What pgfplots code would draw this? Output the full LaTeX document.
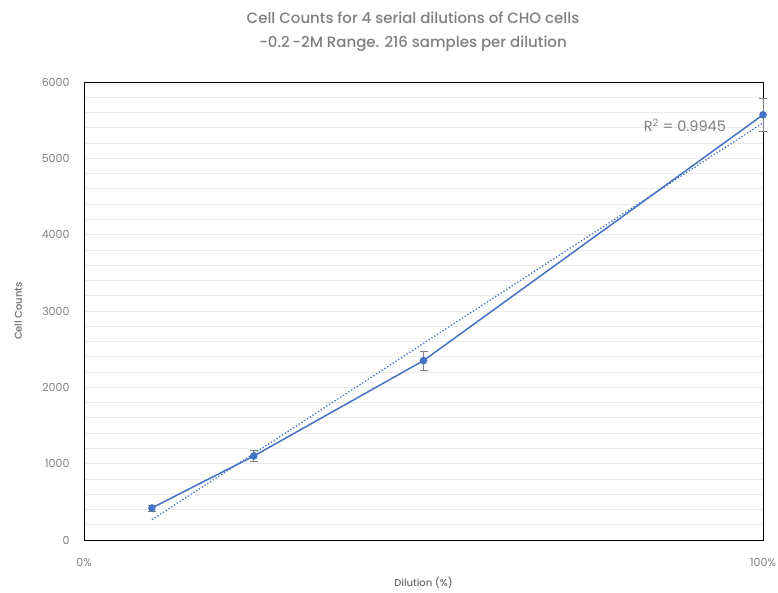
\documentclass[border=0pt]{standalone}
\usepackage{pgfplots}
\pgfplotsset{compat=1.18}
\usepackage{fontspec}
\setmainfont{Poppins}
\newfontfamily\medfont{Poppins Medium}
\definecolor{exblue}{HTML}{4472C4}
\definecolor{txtgray}{HTML}{7F7F7F}
\definecolor{gridgray}{HTML}{EBEBEB}
\begin{document}
\begin{tikzpicture}[x=1pt,y=1pt]
\useasboundingbox (0,0) rectangle (778,592);
\node[text=txtgray, font=\medfont\fontsize{15}{17}\selectfont] at (413,574) {Cell Counts for 4 serial dilutions of CHO cells};
\node[text=txtgray, font=\medfont\fontsize{15}{17}\selectfont] at (413,548) {\mbox{-}0.2\,-2M Range. 216 samples per dilution};
\begin{axis}[
  at={(84pt,52pt)}, anchor=south west,
  scale only axis, width=679pt, height=458pt,
  xmin=0, xmax=100, ymin=0, ymax=6000,
  xtick={0,100}, xticklabels={0\%,100\%},
  ytick={0,1000,...,6000},
  minor ytick={200,400,...,5800},
  ymajorgrids, yminorgrids,
  major grid style={gridgray, line width=0.8pt},
  minor grid style={gridgray, line width=0.8pt},
  axis line style={black, line width=0.8pt},
  major tick length=0pt, minor tick length=0pt,
  tick label style={text=txtgray, font=\fontsize{11}{13}\selectfont},
  /pgf/number format/assume math mode=true,
  /pgf/number format/1000 sep={},
  xticklabel style={yshift=-15pt},
  yticklabel style={xshift=-11pt},
  xlabel={Dilution (\%)}, ylabel={Cell Counts},
  label style={text=txtgray!85!black, font=\medfont\fontsize{10}{12}\selectfont},
  xlabel style={at={(axis description cs:0.5,-0.094)}, anchor=center},
  ylabel style={at={(axis description cs:-0.097,0.5)}, anchor=center, rotate=0},
  clip=false,
]
\addplot[exblue, line width=1.5pt, mark=*, mark size=3pt,
  error bars/.cd, y dir=both, y explicit,
  error bar style={txtgray, line width=0.7pt},
  error mark options={txtgray, rotate=90, mark size=4pt, line width=0.7pt}]
  coordinates {
  (10,420) +- (0,40)
  (25,1100) +- (0,75)
  (50,2350) +- (0,125)
  (100,5570) +- (0,215)
};
\addplot[exblue, line width=1.3pt, dotted, no marks] coordinates {(10,266) (100,5464)};
\node[text=txtgray, font=\fontsize{14.5}{16}\selectfont] at (axis cs:88.5,5437) {R\textsuperscript{2} = 0.9945};
\end{axis}
\end{tikzpicture}
\end{document}
